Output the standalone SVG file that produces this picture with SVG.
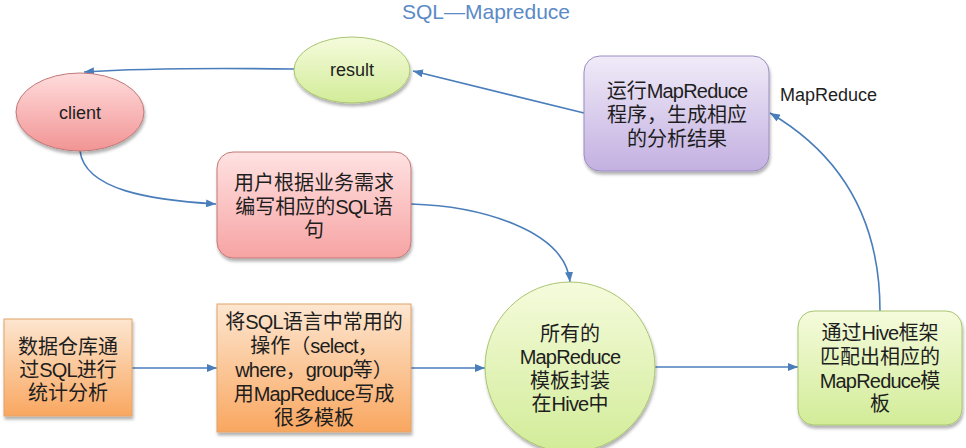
<svg xmlns="http://www.w3.org/2000/svg" width="966" height="448" viewBox="0 0 966 448">
<style>
.t{font-family:"Liberation Sans","Noto Sans CJK SC",sans-serif;font-size:20px;fill:#1e1e1e;text-anchor:middle}
.s{font-size:18px}
.l{letter-spacing:-0.8px}
.c{fill:none;stroke:#4a7ebb;stroke-width:1.6;marker-end:url(#ah)}
.title{font-family:"Liberation Sans",sans-serif;font-size:21px;fill:#5b8ac6;text-anchor:middle}
</style>
<defs>
<marker id="ah" markerUnits="userSpaceOnUse" markerWidth="10" markerHeight="8" refX="10" refY="4" orient="auto">
<path d="M0,0 L10,4 L0,8 z" fill="#4a7ebb"/>
</marker>
<filter id="sh" x="-10%" y="-10%" width="125%" height="130%">
<feDropShadow dx="1" dy="3" stdDeviation="1.5" flood-color="#000" flood-opacity="0.3"/>
</filter>
<linearGradient id="gGreen" x1="0" y1="0" x2="0" y2="1"><stop offset="0" stop-color="#f5fbdc"/><stop offset="1" stop-color="#d2ec98"/></linearGradient>
<linearGradient id="gRed" x1="0" y1="0" x2="0" y2="1"><stop offset="0" stop-color="#ffdcdc"/><stop offset="1" stop-color="#f29494"/></linearGradient>
<linearGradient id="gPink" x1="0" y1="0" x2="0" y2="1"><stop offset="0" stop-color="#ffe2e2"/><stop offset="1" stop-color="#f7a3a3"/></linearGradient>
<linearGradient id="gPurple" x1="0" y1="0" x2="0" y2="1"><stop offset="0" stop-color="#f0ebf8"/><stop offset="1" stop-color="#c3b0e1"/></linearGradient>
<linearGradient id="gOrange" x1="0" y1="0" x2="0" y2="1"><stop offset="0" stop-color="#fde6d0"/><stop offset="1" stop-color="#f9a760"/></linearGradient>
</defs>
<rect width="966" height="448" fill="#fff"/>
<text class="title" x="486" y="19">SQL—Mapreduce</text>

<g id="connectors">
<path class="c" d="M294,69 C220,68 130,69 84,72"/>
<path class="c" d="M584,113 L413,71"/>
<path class="c" d="M80,151 C85,190 150,200 216,204"/>
<path class="c" d="M411,204 C480,206 565,230 570,282"/>
<path class="c" d="M132,368 L217,368"/>
<path class="c" d="M411,368 L485,368"/>
<path class="c" d="M655,367 L798,367"/>
<path class="c" d="M880,311 C880,230 850,160 770,113"/>
</g>

<g id="result">
<ellipse cx="352" cy="70" rx="58" ry="33" fill="url(#gGreen)" stroke="#a9c470" filter="url(#sh)"/>
<text class="t s" x="352" y="76">result</text>
</g>

<g id="client">
<ellipse cx="80" cy="112" rx="64" ry="39" fill="url(#gRed)" stroke="#c07878" filter="url(#sh)"/>
<text class="t s" x="80" y="119">client</text>
</g>

<g id="run-mapreduce">
<rect x="584" y="56" width="185" height="115" rx="16" fill="url(#gPurple)" stroke="#9c8cbf" filter="url(#sh)"/>
<text class="t" x="677" y="98">运行<tspan class="l">MapReduce</tspan></text>
<text class="t" x="677" y="122">程序，生成相应</text>
<text class="t" x="677" y="146">的分析结果</text>
</g>

<g id="mapreduce-label">
<text class="t s" x="780" y="101" style="text-anchor:start">MapReduce</text>
</g>

<g id="write-sql">
<rect x="217" y="152" width="194" height="106" rx="16" fill="url(#gPink)" stroke="#c07878" filter="url(#sh)"/>
<text class="t" x="314" y="190">用户根据业务需求</text>
<text class="t" x="314" y="214">编写相应的<tspan class="l">SQL</tspan>语</text>
<text class="t" x="314" y="237">句</text>
</g>

<g id="warehouse">
<rect x="4" y="319" width="128" height="97" fill="url(#gOrange)" stroke="#e0a468" filter="url(#sh)"/>
<text class="t" x="68" y="354">数据仓库通</text>
<text class="t" x="68" y="377">过<tspan class="l">SQL</tspan>进行</text>
<text class="t" x="68" y="400">统计分析</text>
</g>

<g id="templates">
<rect x="217" y="304" width="194" height="128" fill="url(#gOrange)" stroke="#e0a468" filter="url(#sh)"/>
<text class="t" x="314" y="329">将<tspan class="l">SQL</tspan>语言中常用的</text>
<text class="t" x="314" y="353">操作（<tspan class="l">select</tspan>，</text>
<text class="t" x="314" y="377"><tspan class="l">where</tspan>，<tspan class="l">group</tspan>等）</text>
<text class="t" x="314" y="401">用<tspan class="l">MapReduce</tspan>写成</text>
<text class="t" x="314" y="425">很多模板</text>
</g>

<g id="hive-templates">
<circle cx="570" cy="367" r="85" fill="url(#gGreen)" stroke="#a9c470" filter="url(#sh)"/>
<text class="t" x="570" y="341">所有的</text>
<text class="t" x="570" y="364"><tspan class="l">MapReduce</tspan></text>
<text class="t" x="570" y="388">模板封装</text>
<text class="t" x="570" y="411">在<tspan class="l">Hive</tspan>中</text>
</g>

<g id="hive-match">
<rect x="798" y="311" width="164" height="114" rx="16" fill="url(#gGreen)" stroke="#a9c470" filter="url(#sh)"/>
<text class="t" x="880" y="340">通过<tspan class="l">Hive</tspan>框架</text>
<text class="t" x="880" y="364">匹配出相应的</text>
<text class="t" x="880" y="388"><tspan class="l">MapReduce</tspan>模</text>
<text class="t" x="880" y="411">板</text>
</g>
</svg>
